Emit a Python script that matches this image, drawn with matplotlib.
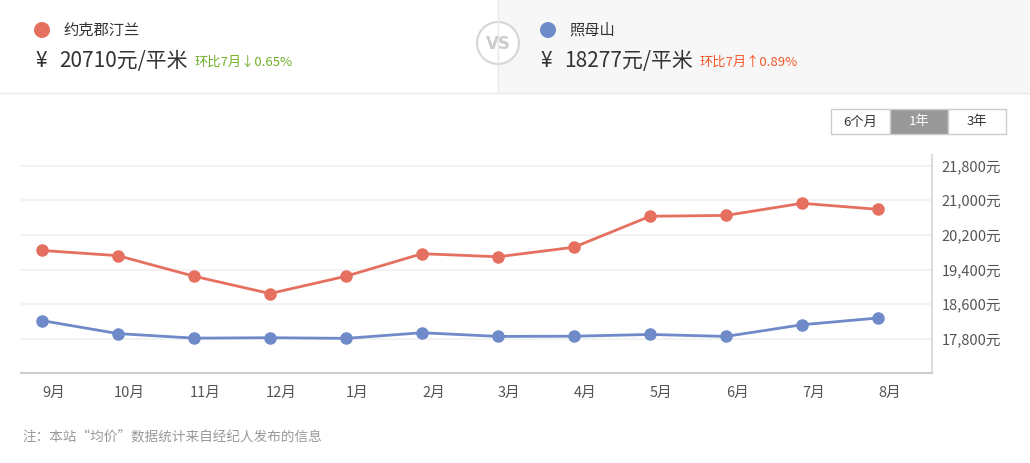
import matplotlib.pyplot as plt
import numpy as np
from matplotlib.patches import Rectangle, Circle
from matplotlib.ticker import FuncFormatter

plt.rcParams['font.family'] = ['Noto Sans CJK SC', 'DejaVu Sans']

months = ['9月', '10月', '11月', '12月', '1月', '2月', '3月', '4月', '5月', '6月', '7月', '8月']
yuekejun = [19840, 19720, 19245, 18845, 19245, 19765, 19695, 19915, 20630, 20650, 20930, 20790]
zhaomushan = [18220, 17920, 17815, 17825, 17810, 17940, 17855, 17860, 17900, 17855, 18125, 18280]
yticks = [17800, 18600, 19400, 20200, 21000, 21800]
names = ['约克郡汀兰', '照母山']
prices = ['20710元/平米', '18277元/平米']
changes = ['环比7月↓0.65%', '环比7月↑0.89%']
periods = ['6个月', '1年', '3年']

red = '#e5705f'
blue = '#6e8ac8'
W, H = 1030, 463

fig = plt.figure(figsize=(W / 100, H / 100), dpi=100)

# background layer in pixel coords for the header and buttons
bg = fig.add_axes([0, 0, 1, 1])
bg.set_xlim(0, W)
bg.set_ylim(H, 0)
bg.axis('off')
bg.add_patch(Rectangle((498, 0), W - 498, 93, facecolor='#f7f7f7', edgecolor='none'))
bg.plot([498, 498], [0, 93], color='#e8e8e8', lw=1)
bg.plot([0, W], [93, 93], color='#e8e8e8', lw=1)
bg.add_patch(Circle((498, 43), 21, facecolor='white', edgecolor='#d6d6d6', lw=1.5))
bg.text(498, 44, 'VS', ha='center', va='center', fontsize=12, color='#cccccc',
        fontweight='bold', family='DejaVu Sans')

heads = [(42, 36, 195, red, '#72b12a'), (548, 541, 700, blue, '#f5582a')]
for i, (dx, px, cx, col, ccol) in enumerate(heads):
    bg.add_patch(Circle((dx, 30), 8, facecolor=col, edgecolor='none'))
    bg.text(dx + 21, 30, names[i], ha='left', va='center', fontsize=11, color='#333333')
    bg.text(px, 61, '¥', ha='left', va='center', fontsize=15, color='#333333')
    bg.text(px + 23, 61, prices[i], ha='left', va='center', fontsize=15, color='#333333')
    bg.text(cx, 62, changes[i], ha='left', va='center', fontsize=9.5, color=ccol)

# period buttons
edges = [831, 890, 948, 1006]
for i, lab in enumerate(periods):
    sel = lab == '1年'
    bg.add_patch(Rectangle((edges[i], 109), edges[i + 1] - edges[i], 25,
                           facecolor='#999999' if sel else 'white', edgecolor='#cccccc', lw=1))
    bg.text((edges[i] + edges[i + 1]) / 2, 122, lab, ha='center', va='center', fontsize=9.5,
            color='white' if sel else '#333333')

bg.text(22, 436, '注：本站“均价”数据统计来自经纪人发布的信息', ha='left', va='center',
        fontsize=9.8, color='#999999')

# chart
left, right, top, bottom = 21, 932, 155, 373
ax = fig.add_axes([left / W, 1 - bottom / H, (right - left) / W, (bottom - top) / H])
ax.patch.set_alpha(0)
x = np.arange(len(months))
ax.plot(x, yuekejun, color=red, lw=2, marker='o', ms=8, zorder=3)
ax.plot(x, zhaomushan, color=blue, lw=2, marker='o', ms=8, zorder=3)

ax.set_xlim(-0.276, 11.71)
ax.set_ylim(17010, 22045)
ax.set_yticks(yticks)
ax.yaxis.set_major_formatter(FuncFormatter(lambda v, p: f'{int(v):,}元'))
ax.yaxis.tick_right()
ax.set_xticks(x + 0.15)
ax.set_xticklabels(months)
ax.tick_params(axis='both', length=0, labelsize=10.5, labelcolor='#555555')
ax.tick_params(axis='x', pad=9)
ax.tick_params(axis='y', pad=7)
ax.grid(axis='y', color='#f2f2f2', lw=1.5)
ax.set_axisbelow(True)
for s in ['top', 'left']:
    ax.spines[s].set_visible(False)
ax.spines['bottom'].set_color('#cccccc')
ax.spines['right'].set_color('#dddddd')
ax.spines['bottom'].set_linewidth(1.5)
ax.spines['right'].set_linewidth(1.5)

fig.savefig('out.png', dpi=100)
